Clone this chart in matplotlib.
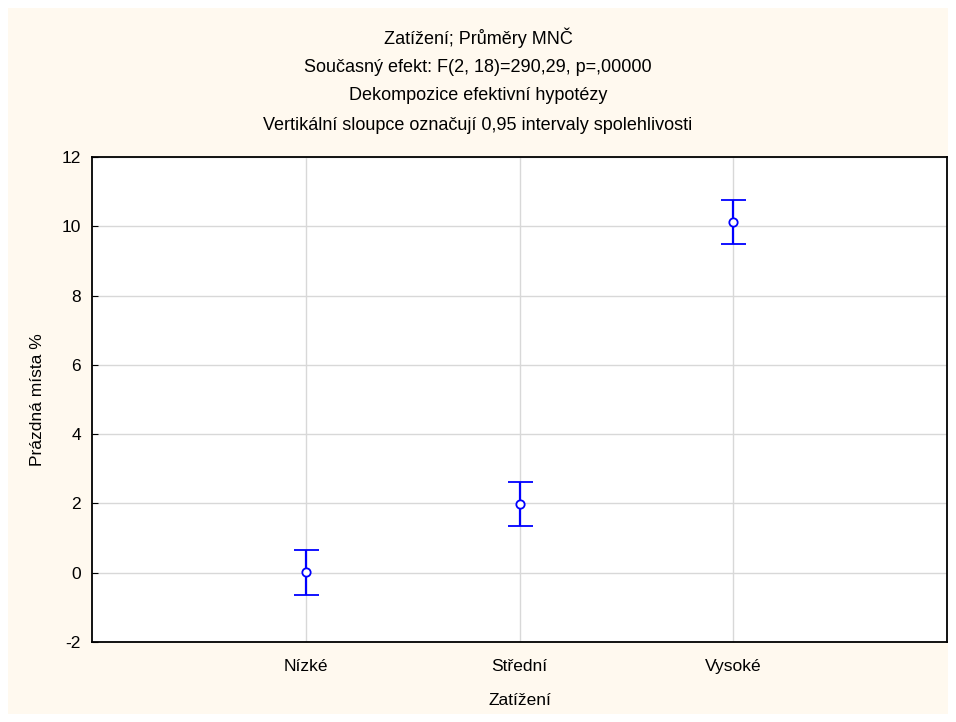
#!/usr/bin/env python3
"""
Means plot with 0.95 confidence intervals (Zatížení vs. Prázdná místa %).
"""

import matplotlib
matplotlib.use('Agg')
import matplotlib.pyplot as plt
from matplotlib.patches import Rectangle

# Data
categories = ['Nízké', 'Střední', 'Vysoké']
means = [0.03, 1.98, 10.13]
ci_low = [-0.64, 1.34, 9.48]
ci_high = [0.65, 2.63, 10.76]

title_lines = [
    'Zatížení; Průměry MNČ',
    'Současný efekt: F(2, 18)=290,29, p=,00000',
    'Dekompozice efektivní hypotézy',
    'Vertikální sloupce označují 0,95 intervaly spolehlivosti',
]

plt.rcParams['font.family'] = ['Liberation Sans', 'DejaVu Sans']
plt.rcParams['axes.unicode_minus'] = False

fig = plt.figure(figsize=(9.56, 7.22), dpi=100)
fig.patch.set_facecolor('white')

# cream panel behind everything, with a thin white margin
fig.patches.append(Rectangle((8 / 956, 8 / 722), 940 / 956, 706 / 722,
                             transform=fig.transFigure, facecolor='#fff9ef',
                             edgecolor='none', zorder=-10))

ax = fig.add_axes([92 / 956, 1 - 642 / 722, 855 / 956, 485 / 722])
ax.set_facecolor('white')

x = list(range(1, len(categories) + 1))
yerr = [[m - lo for m, lo in zip(means, ci_low)],
        [hi - m for m, hi in zip(means, ci_high)]]

ax.errorbar(x, means, yerr=yerr, fmt='o', color='#0000ff', mfc='white',
            mec='#0000ff', ms=6, mew=1.3, elinewidth=1.6, capsize=9,
            capthick=1.6, zorder=3)

ax.set_xlim(0, 4)
ax.set_ylim(-2, 12)
ax.set_xticks(x)
ax.set_xticklabels(categories)
ax.set_yticks(range(-2, 13, 2))
ax.grid(True, color='#d8d8d8', linewidth=1)
ax.set_axisbelow(True)
ax.tick_params(direction='in', length=4, labelsize=12.5, colors='black', pad=8)
ax.tick_params(axis='x', length=0, pad=12)
for sp in ax.spines.values():
    sp.set_linewidth(1.3)

ax.set_xlabel('Zatížení', fontsize=12.5, labelpad=14)
ax.set_ylabel('Prázdná místa %', fontsize=12.5, labelpad=12)

for i, line in enumerate(title_lines):
    fig.text(0.5, 1 - (38 + 29 * i) / 722, line, ha='center', va='center',
             fontsize=13)

fig.savefig('out.png', dpi=100, facecolor=fig.get_facecolor())
